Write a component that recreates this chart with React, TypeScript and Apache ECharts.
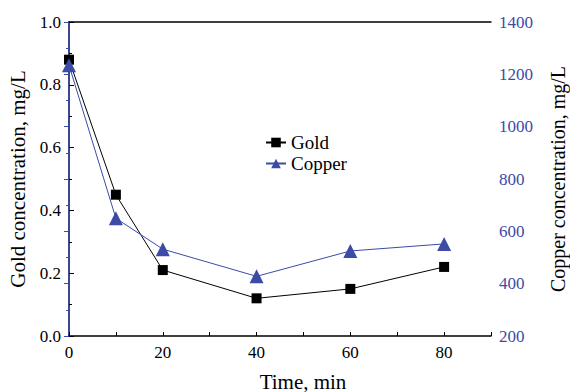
import React, { useEffect, useRef } from "react";
import * as echarts from "echarts";

const timeMin = [0, 10, 20, 40, 60, 80];
const goldConc = [0.88, 0.45, 0.21, 0.12, 0.15, 0.22];
const copperConc = [1235, 650, 532, 428, 525, 552];
const xLabelValues = [0, 20, 40, 60, 80];

const BLUE = "#3b4ba6";
const FONT = "Liberation Serif";

export default function App() {
  const ref = useRef<HTMLDivElement>(null);
  useEffect(() => {
    if (!ref.current) return;
    const chart = echarts.init(ref.current, undefined, { renderer: "svg" });
    chart.setOption({
      animation: false,
      textStyle: { fontFamily: FONT },
      grid: { left: 69, right: 79, top: 22, bottom: 56, outerBoundsMode: "none", containLabel: false },
      legend: {
        orient: "vertical",
        left: 260,
        top: 128,
        itemGap: 2,
        itemWidth: 20,
        itemHeight: 12,
        textStyle: { fontFamily: FONT, fontSize: 19, color: "#000" },
        data: ["Gold", "Copper"],
      },
      xAxis: [
        {
          type: "value",
          min: 0,
          max: 90,
          interval: 10,
          position: "bottom",
          name: "Time, min",
          nameLocation: "middle",
          nameGap: 35,
          nameTextStyle: { fontFamily: FONT, fontSize: 21, color: "#000", padding: [0, 0, 0, 46] },
          axisLine: { show: true, lineStyle: { color: "#000", width: 1.5 } },
          axisTick: { show: true, inside: true, length: 4, lineStyle: { color: "#000" } },
          axisLabel: {
            customValues: xLabelValues,
            fontFamily: FONT,
            fontSize: 17,
            color: "#000",
            margin: 8,
            formatter: (v: number) => String(v),
          },
          splitLine: { show: false },
        },
        {
          type: "value",
          min: 0,
          max: 90,
          position: "top",
          axisLine: { show: true, lineStyle: { color: "#000", width: 1.5 } },
          axisTick: { show: false },
          axisLabel: { show: false },
          splitLine: { show: false },
        },
      ],
      yAxis: [
        {
          type: "value",
          min: 0,
          max: 1,
          interval: 0.2,
          position: "left",
          name: "Gold concentration, mg/L",
          nameLocation: "middle",
          nameRotate: 90,
          nameGap: 40,
          nameTextStyle: { fontFamily: FONT, fontSize: 21, color: "#000" },
          axisLine: { show: true, lineStyle: { color: "#000", width: 1.5 } },
          axisTick: { show: true, inside: true, length: 5, lineStyle: { color: "#000" } },
          minorTick: { show: true, splitNumber: 2, length: 3, lineStyle: { color: "#000" } },
          axisLabel: {
            fontFamily: FONT,
            fontSize: 17,
            color: "#000",
            margin: 8,
            formatter: (v: number) => v.toFixed(1),
          },
          splitLine: { show: false },
        },
        {
          type: "value",
          min: 200,
          max: 1400,
          interval: 200,
          position: "right",
          name: "Copper concentration, mg/L",
          nameLocation: "middle",
          nameRotate: 90,
          nameGap: 57,
          nameTextStyle: { fontFamily: FONT, fontSize: 20, color: "#000" },
          axisLine: { show: true, lineStyle: { color: BLUE, width: 1.5 } },
          axisTick: { show: true, inside: true, length: 5, lineStyle: { color: BLUE } },
          minorTick: { show: true, splitNumber: 2, length: 3, lineStyle: { color: BLUE } },
          axisLabel: {
            fontFamily: FONT,
            fontSize: 17,
            color: BLUE,
            margin: 8,
            formatter: (v: number) => String(v),
          },
          splitLine: { show: false },
        },
      ],
      series: [
        {
          name: "Gold",
          type: "line",
          xAxisIndex: 0,
          yAxisIndex: 0,
          data: timeMin.map((t, i) => [t, goldConc[i]]),
          symbol: "rect",
          symbolSize: 10,
          itemStyle: { color: "#000" },
          lineStyle: { color: "#000", width: 1 },
        },
        {
          name: "Copper",
          type: "line",
          xAxisIndex: 0,
          yAxisIndex: 1,
          data: timeMin.map((t, i) => [t, copperConc[i]]),
          symbol: "triangle",
          symbolSize: 14,
          itemStyle: { color: BLUE },
          lineStyle: { color: BLUE, width: 1 },
        },
      ],
    });
    return () => chart.dispose();
  }, []);
  return <div ref={ref} style={{ width: 570, height: 392, position: "absolute", left: 0, top: 0 }} />;
}
